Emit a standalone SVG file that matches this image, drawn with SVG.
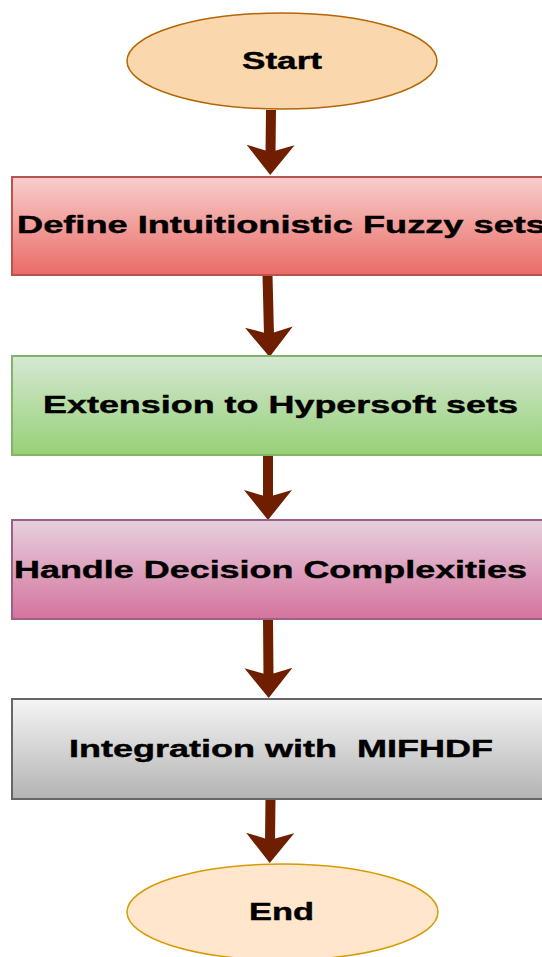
<svg xmlns="http://www.w3.org/2000/svg" width="542" height="957" viewBox="0 0 542 957">
  <defs>
    <linearGradient id="gRed" x1="0" y1="0" x2="0" y2="1">
      <stop offset="0" stop-color="#f8cecc"/>
      <stop offset="1" stop-color="#ea6b66"/>
    </linearGradient>
    <linearGradient id="gGreen" x1="0" y1="0" x2="0" y2="1">
      <stop offset="0" stop-color="#d5e8d4"/>
      <stop offset="1" stop-color="#97d077"/>
    </linearGradient>
    <linearGradient id="gPink" x1="0" y1="0" x2="0" y2="1">
      <stop offset="0" stop-color="#e6d0de"/>
      <stop offset="1" stop-color="#d5739d"/>
    </linearGradient>
    <linearGradient id="gGray" x1="0" y1="0" x2="0" y2="1">
      <stop offset="0" stop-color="#f5f5f5"/>
      <stop offset="1" stop-color="#b3b3b3"/>
    </linearGradient>
    <marker id="head" markerUnits="userSpaceOnUse" viewBox="0 0 30 48" markerWidth="30" markerHeight="48" refX="8" refY="24" orient="auto">
      <path d="M0,0 L30,24 L0,48 L7,24 Z" fill="#6f1f00"/>
    </marker>
  </defs>
  <style>
    .lbl { font-family: "Liberation Sans", Arial, sans-serif; font-weight: bold; font-size: 23px; fill: #000; stroke: #000; stroke-width: 0.4; }
    .box { stroke-width: 2; }
    .conn { stroke: #6f1f00; stroke-width: 10; fill: none; marker-end: url(#head); }
  </style>

  <rect width="542" height="957" fill="#ffffff"/>

  <!-- flow connectors -->
  <g id="connectors">
    <line class="conn" x1="271" y1="110" x2="270.5" y2="153"/>
    <line class="conn" x1="267.5" y1="275" x2="269" y2="335"/>
    <line class="conn" x1="268" y1="455" x2="268" y2="498"/>
    <line class="conn" x1="268" y1="619" x2="268.5" y2="676"/>
    <line class="conn" x1="270.5" y1="799" x2="270" y2="841"/>
  </g>

  <g id="start">
    <ellipse cx="282" cy="61" rx="155" ry="48" fill="#fad7ac" stroke="#b46504" stroke-width="1.5"/>
    <text class="lbl" x="242" y="69" textLength="80" lengthAdjust="spacingAndGlyphs">Start</text>
  </g>

  <g id="define-ifs">
    <rect class="box" x="12" y="177" width="560" height="98" fill="url(#gRed)" stroke="#b85450"/>
    <text class="lbl" x="17" y="232.5" textLength="529" lengthAdjust="spacingAndGlyphs">Define Intuitionistic Fuzzy sets</text>
  </g>

  <g id="hypersoft">
    <rect class="box" x="12" y="356" width="560" height="99" fill="url(#gGreen)" stroke="#82b366"/>
    <text class="lbl" x="43" y="413" textLength="475" lengthAdjust="spacingAndGlyphs">Extension to Hypersoft sets</text>
  </g>

  <g id="complexities">
    <rect class="box" x="12" y="520" width="560" height="99" fill="url(#gPink)" stroke="#996185"/>
    <text class="lbl" x="14" y="577.5" textLength="513" lengthAdjust="spacingAndGlyphs">Handle Decision Complexities</text>
  </g>

  <g id="mifhdf">
    <rect class="box" x="12" y="699" width="560" height="100" fill="url(#gGray)" stroke="#666666"/>
    <text class="lbl" x="69" y="757" textLength="424" lengthAdjust="spacingAndGlyphs" xml:space="preserve">Integration with  MIFHDF</text>
  </g>

  <g id="end">
    <ellipse cx="282.5" cy="912" rx="155.5" ry="48" fill="#ffe6cc" stroke="#d79b00" stroke-width="1.5"/>
    <text class="lbl" x="249" y="920" textLength="65" lengthAdjust="spacingAndGlyphs">End</text>
  </g>
</svg>
